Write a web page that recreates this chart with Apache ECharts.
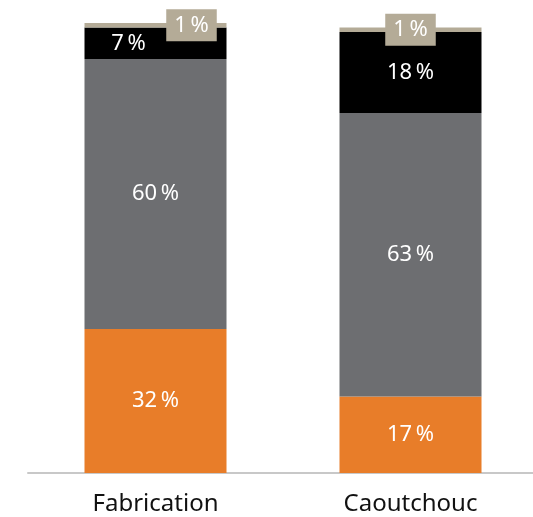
<!DOCTYPE html>
<html>
<head>
<meta charset="utf-8">
<script src="https://cdn.jsdelivr.net/npm/echarts@6/dist/echarts.min.js"></script>
<style>
  html, body { margin: 0; padding: 0; background: #fff; overflow: hidden; }
  #chart { width: 540px; height: 517px; }
</style>
</head>
<body>
<div id="chart"></div>
<script>
const categories = ['Fabrication', 'Caoutchouc'];
const orangeValues = [32, 17];
const grayValues = [60, 63];
const blackValues = [7, 18];
const beigeValues = [1, 1];

const FONT = '"Noto Sans", "Open Sans", sans-serif';
const chart = echarts.init(document.getElementById('chart'));

function labelStyle(extra) {
  return Object.assign({
    show: true,
    position: 'inside',
    color: '#fff',
    fontFamily: FONT,
    fontSize: 22,
    formatter: p => p.value + '\u2009%'
  }, extra || {});
}

const option = {
  animation: false,
  grid: { left: 28, top: 23, bottom: 44, right: 2, containLabel: false },
  xAxis: {
    type: 'category',
    data: categories,
    axisLine: { show: true, lineStyle: { color: '#c8c8c8', width: 2 } },
    axisTick: { show: false },
    axisLabel: { color: '#111', fontFamily: FONT, fontSize: 24, margin: 19 }
  },
  yAxis: {
    type: 'value', min: 0, max: 100,
    show: false
  },
  series: [
    {
      name: 'orange', type: 'bar', stack: 's', barWidth: 142,
      data: orangeValues,
      itemStyle: { color: '#E87D29' },
      label: labelStyle()
    },
    {
      name: 'gray', type: 'bar', stack: 's', barWidth: 142,
      data: grayValues,
      itemStyle: { color: '#6D6E71' },
      label: labelStyle()
    },
    {
      name: 'black', type: 'bar', stack: 's', barWidth: 142,
      data: blackValues.map((v, i) => ({
        value: v,
        label: i === 0 ? { offset: [-27, 0] } : {}
      })),
      itemStyle: { color: '#000' },
      label: labelStyle()
    },
    {
      name: 'beige', type: 'bar', stack: 's', barWidth: 142,
      data: beigeValues.map((v, i) => ({
        value: v,
        label: i === 0 ? { offset: [36, 0] } : {}
      })),
      itemStyle: { color: '#B4AB97' },
      label: labelStyle({
        backgroundColor: '#B4AB97',
        padding: [4, 8, 4, 8],
        lineHeight: 24
      })
    }
  ]
};
chart.setOption(option);
</script>
</body>
</html>
